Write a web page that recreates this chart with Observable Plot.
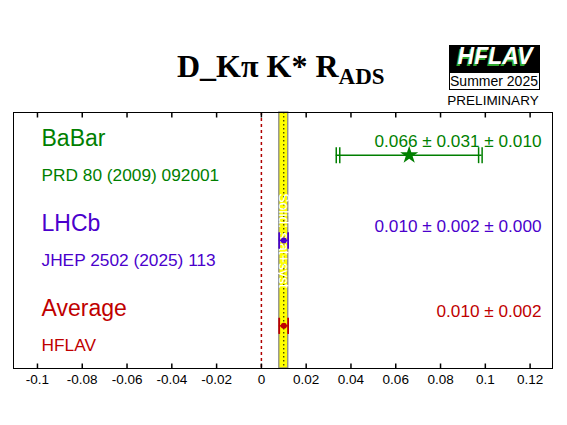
<!DOCTYPE html>
<html><head><meta charset="utf-8">
<script src="https://cdn.jsdelivr.net/npm/d3@7"></script>
<script src="https://cdn.jsdelivr.net/npm/@observablehq/plot@0.6"></script>
<style>
body{margin:0;background:#fff;}
#chart{width:567px;height:425px;}
</style>
</head><body><div id="chart"></div>
<script>
// ---- data ----
const experiments = ["BaBar", "LHCb", "Average"];
const references = ["PRD 80 (2009) 092001", "JHEP 2502 (2025) 113", "HFLAV"];
const values = [0.066, 0.010, 0.010];
const statErr = [0.031, 0.002, 0.002];
const systErr = [0.010, 0.000, 0];
const valueLabels = ["0.066 \u00b1 0.031 \u00b1 0.010", "0.010 \u00b1 0.002 \u00b1 0.000", "0.010 \u00b1 0.002"];
const colors = ["#007f00", "#4a00cc", "#c00000"];
const markers = ["star", "circle", "circle"];
const averageValue = 0.010;
const averageErr = 0.002;
const xTicks = [-0.1, -0.08, -0.06, -0.04, -0.02, 0, 0.02, 0.04, 0.06, 0.08, 0.1, 0.12];
const xTickLabels = ["-0.1", "-0.08", "-0.06", "-0.04", "-0.02", "0", "0.02", "0.04", "0.06", "0.08", "0.1", "0.12"];
const titleMain = "D_K\u03c0 K* R";
const titleSub = "ADS";
const bandText = "Solid: stat+syst";

const rows = experiments.map((name, i) => ({
  name, ref: references[i], v: values[i], stat: statErr[i], syst: systErr[i],
  tot: Math.sqrt(statErr[i] ** 2 + systErr[i] ** 2),
  label: valueLabels[i], color: colors[i], marker: markers[i], row: i + 0.5
}));
const ends = rows.flatMap(r => [
  {x: r.v - r.stat, row: r.row, color: r.color},
  {x: r.v + r.stat, row: r.row, color: r.color},
  {x: r.v - r.tot, row: r.row, color: r.color},
  {x: r.v + r.tot, row: r.row, color: r.color}
]);

const vbar = {draw(ctx) { ctx.moveTo(0, -8); ctx.lineTo(0, 8); }};
const tickUp = {draw(ctx) { ctx.moveTo(0, 0); ctx.lineTo(0, -5); }};
const tickDown = {draw(ctx) { ctx.moveTo(0, 0); ctx.lineTo(0, 5); }};

const svg = Plot.plot({
  width: 567, height: 425,
  marginLeft: 13, marginRight: 15, marginTop: 112, marginBottom: 57,
  style: {fontFamily: "Liberation Sans, Arial, sans-serif", background: "white"},
  x: {domain: [-0.1107, 0.13], ticks: xTicks, tickFormat: (d) => xTickLabels[xTicks.indexOf(d)]},
  y: {domain: [0, 3], reverse: true, axis: null},
  marks: [
    Plot.rectX([{x1: averageValue - averageErr, x2: averageValue + averageErr}], {x1: "x1", x2: "x2", y1: 0, y2: 3, fill: "#ffff00", stroke: "#888", strokeWidth: 1.3}),
    Plot.ruleX([averageValue], {y1: 0, y2: 3, stroke: "black", strokeDasharray: "1.5,2.5", strokeWidth: 1}),
    Plot.text([bandText], {x: averageValue, y: 1.5, text: d => d, rotate: 90, fill: "white", fontSize: 14}),
    Plot.ruleX([0], {y1: 0, y2: 3, stroke: "#b00000", strokeDasharray: "3,3", strokeWidth: 1.5}),
    Plot.ruleY(rows, {y: "row", x1: r => r.v - r.tot, x2: r => r.v + r.tot, stroke: "color", strokeWidth: 1.5}),
    Plot.dot(ends, {x: "x", y: "row", symbol: vbar, stroke: "color", strokeWidth: 1.5, r: 5}),
    Plot.dot(rows, {x: "v", y: "row", symbol: "marker", fill: "color", stroke: "none", r: r => r.marker === "star" ? 9 : 2.5}),
    Plot.text(rows, {y: "row", text: "name", frameAnchor: "left", dx: 28, dy: -17, textAnchor: "start", fill: "color", fontSize: 23}),
    Plot.text(rows, {y: "row", text: "ref", frameAnchor: "left", dx: 28, dy: 20, textAnchor: "start", fill: "color", fontSize: 17.3}),
    Plot.text(rows, {y: "row", text: "label", frameAnchor: "right", dx: -11, dy: -14, textAnchor: "end", fill: "color", fontSize: 17.2}),
    Plot.dot(xTicks, {x: d => d, frameAnchor: "bottom", symbol: tickUp, stroke: "black", r: 3}),
    Plot.dot(xTicks, {x: d => d, frameAnchor: "top", symbol: tickDown, stroke: "black", r: 3}),
    Plot.axisX({anchor: "bottom", ticks: xTicks, tickSize: 0, tickPadding: 6, fontSize: 13.5, tickFormat: (d) => xTickLabels[xTicks.indexOf(d)]}),
    Plot.frame({stroke: "black", strokeWidth: 1})
  ]
});

const s = d3.select(svg);
const t = s.append("text").attr("x", 177).attr("y", 77).attr("text-anchor", "start")
  .attr("font-family", "Liberation Serif, Times New Roman, serif").attr("font-weight", "bold").attr("font-size", 32).attr("fill", "black");
t.append("tspan").text(titleMain);
t.append("tspan").attr("font-size", 23).attr("dy", 7).text(titleSub);

const g = s.append("g");
g.append("rect").attr("x", 449).attr("y", 45).attr("width", 91).attr("height", 27).attr("fill", "black");
g.append("text").attr("x", 495).attr("y", 64).attr("text-anchor", "middle")
  .attr("font-family", "Liberation Sans, Arial, sans-serif").attr("font-weight", "bold").attr("font-style", "italic")
  .attr("font-size", 23).attr("fill", "#2fa82f").text("HFLAV").attr("transform", "translate(-1.5,1.5)");
g.append("text").attr("x", 495).attr("y", 64).attr("text-anchor", "middle")
  .attr("font-family", "Liberation Sans, Arial, sans-serif").attr("font-weight", "bold").attr("font-style", "italic")
  .attr("font-size", 23).attr("fill", "white").text("HFLAV");
g.append("rect").attr("x", 449.5).attr("y", 72.5).attr("width", 90).attr("height", 17).attr("fill", "white").attr("stroke", "black");
g.append("text").attr("x", 494).attr("y", 86).attr("text-anchor", "middle")
  .attr("font-family", "Liberation Sans, Arial, sans-serif").attr("font-size", 14).attr("fill", "black").text("Summer 2025");
g.append("text").attr("x", 493).attr("y", 105).attr("text-anchor", "middle")
  .attr("font-family", "Liberation Sans, Arial, sans-serif").attr("font-size", 13.5).attr("fill", "black").text("PRELIMINARY");

document.getElementById("chart").appendChild(svg);
</script>
</body></html>
